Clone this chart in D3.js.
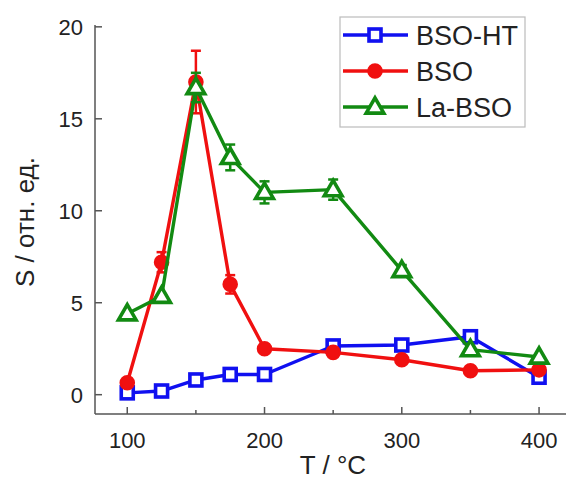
<!DOCTYPE html>
<html>
<head>
<meta charset="utf-8">
<script src="https://cdn.jsdelivr.net/npm/d3@7"></script>
<style>
  html, body { margin: 0; padding: 0; background: #fff; }
  svg { display: block; font-family: "Liberation Sans", Arial, sans-serif; }
</style>
</head>
<body>
<svg id="chart" width="566" height="481"></svg>
<script>
// Temperature points (°C)
const temps = [100, 125, 150, 175, 200, 250, 300, 350, 400];

// Response S (arb. units) for each material
const bsoHT  = [0.1, 0.2, 0.8, 1.1, 1.1, 2.65, 2.7, 3.15, 0.95];
const bso    = [0.65, 7.2, 17.0, 6.0, 2.5, 2.3, 1.9, 1.3, 1.35];
const laBso  = [4.4, 5.35, 16.7, 12.9, 11.0, 11.15, 6.75, 2.45, 2.05];

// Error bar half-widths
const bsoHTErr = [0, 0, 0, 0, 0, 0, 0, 0, 0];
const bsoErr   = [0, 0.55, 1.7, 0.5, 0, 0, 0, 0, 0];
const laBsoErr = [0, 0, 0.8, 0.7, 0.6, 0.55, 0.3, 0, 0];

const seriesNames = ["BSO-HT", "BSO", "La-BSO"];
const xTicks = [100, 200, 300, 400];
const xMinorTicks = [150, 250, 350];
const yTicks = [0, 5, 10, 15, 20];

const series = [
  { name: seriesNames[0], values: bsoHT, err: bsoHTErr, color: "#1010f0", shape: "square" },
  { name: seriesNames[1], values: bso,   err: bsoErr,   color: "#f01010", shape: "circle" },
  { name: seriesNames[2], values: laBso, err: laBsoErr, color: "#128a12", shape: "triangle" }
];

const svg = d3.select("#chart");

const x = d3.scaleLinear().domain([76.5, 424]).range([95, 572]);
const y = d3.scaleLinear().domain([-1.05, 20.1]).range([414, 25]);

const axisColor = "#555";

// Bottom axis with inward ticks
const gx = svg.append("g").attr("transform", `translate(0,${y.range()[0]})`);
gx.append("line").attr("x1", x.range()[0]).attr("x2", 566)
  .attr("stroke", axisColor).attr("stroke-width", 1.5);
gx.selectAll(".major").data(xTicks).join("line")
  .attr("x1", d => x(d)).attr("x2", d => x(d))
  .attr("y1", 0).attr("y2", -7)
  .attr("stroke", axisColor).attr("stroke-width", 1.5);
gx.selectAll(".minor").data(xMinorTicks).join("line")
  .attr("x1", d => x(d)).attr("x2", d => x(d))
  .attr("y1", 0).attr("y2", -4)
  .attr("stroke", axisColor).attr("stroke-width", 1.5);
gx.selectAll("text").data(xTicks).join("text")
  .attr("x", d => x(d)).attr("y", 34)
  .attr("text-anchor", "middle")
  .attr("font-size", 22).attr("fill", "#222")
  .text(d => d);

// Left axis with inward ticks
const gy = svg.append("g").attr("transform", `translate(${x.range()[0]},0)`);
gy.append("line").attr("y1", y.range()[0]).attr("y2", y.range()[1])
  .attr("stroke", axisColor).attr("stroke-width", 1.5);
gy.selectAll(".major").data(yTicks).join("line")
  .attr("y1", d => y(d)).attr("y2", d => y(d))
  .attr("x1", 0).attr("x2", 7)
  .attr("stroke", axisColor).attr("stroke-width", 1.5);
gy.selectAll("text").data(yTicks).join("text")
  .attr("x", -12).attr("y", d => y(d))
  .attr("dy", "0.36em")
  .attr("text-anchor", "end")
  .attr("font-size", 22).attr("fill", "#222")
  .text(d => d);

// Axis titles
svg.append("text")
  .attr("x", 333).attr("y", 474)
  .attr("text-anchor", "middle")
  .attr("font-size", 26).attr("fill", "#222")
  .text("T / °C");
svg.append("text")
  .attr("transform", "translate(34,222) rotate(-90)")
  .attr("text-anchor", "middle")
  .attr("font-size", 26).attr("fill", "#222")
  .text("S / отн. ед.");

// Marker drawing helper
function drawMarker(g, shape, color, cx, cy) {
  if (shape === "square") {
    g.append("rect")
      .attr("x", cx - 6).attr("y", cy - 6).attr("width", 12).attr("height", 12)
      .attr("fill", "#fff").attr("stroke", color).attr("stroke-width", 3.6);
  } else if (shape === "circle") {
    g.append("circle")
      .attr("cx", cx).attr("cy", cy).attr("r", 6.8)
      .attr("fill", color).attr("stroke", color).attr("stroke-width", 2);
  } else {
    const s = d3.symbol().type(d3.symbolTriangle).size(135);
    g.append("path")
      .attr("transform", `translate(${cx},${cy + 1})`)
      .attr("d", s())
      .attr("fill", "#fff").attr("stroke", color).attr("stroke-width", 3.6)
      .attr("stroke-linejoin", "miter");
  }
}

const line = d3.line().x(d => x(d[0])).y(d => y(d[1]));
const plot = svg.append("g");

series.forEach(s => {
  const g = plot.append("g");
  const pts = temps.map((t, i) => [t, s.values[i], s.err[i]]);
  g.append("path").datum(pts)
    .attr("d", line)
    .attr("fill", "none").attr("stroke", s.color).attr("stroke-width", 3.4)
    .attr("stroke-linejoin", "round");
  // error bars
  pts.filter(p => p[2] > 0).forEach(p => {
    const cx = x(p[0]);
    g.append("line")
      .attr("x1", cx).attr("x2", cx)
      .attr("y1", y(p[1] - p[2])).attr("y2", y(p[1] + p[2]))
      .attr("stroke", s.color).attr("stroke-width", 2.5);
    [p[1] - p[2], p[1] + p[2]].forEach(v => {
      g.append("line")
        .attr("x1", cx - 5).attr("x2", cx + 5)
        .attr("y1", y(v)).attr("y2", y(v))
        .attr("stroke", s.color).attr("stroke-width", 2.5);
    });
  });
  pts.forEach(p => drawMarker(g, s.shape, s.color, x(p[0]), y(p[1])));
});

// Legend
const legend = svg.append("g");
legend.append("rect")
  .attr("x", 340).attr("y", 17).attr("width", 185).attr("height", 110)
  .attr("fill", "#fff").attr("stroke", "#bbb").attr("stroke-width", 1.2);
series.forEach((s, i) => {
  const cy = 35 + i * 36;
  const g = legend.append("g");
  g.append("line").attr("x1", 343).attr("x2", 408).attr("y1", cy).attr("y2", cy)
    .attr("stroke", s.color).attr("stroke-width", 3.4);
  drawMarker(g, s.shape, s.color, 375, cy);
  g.append("text")
    .attr("x", 416).attr("y", cy).attr("dy", "0.36em")
    .attr("font-size", 27).attr("fill", "#222")
    .text(s.name);
});
</script>
</body>
</html>
